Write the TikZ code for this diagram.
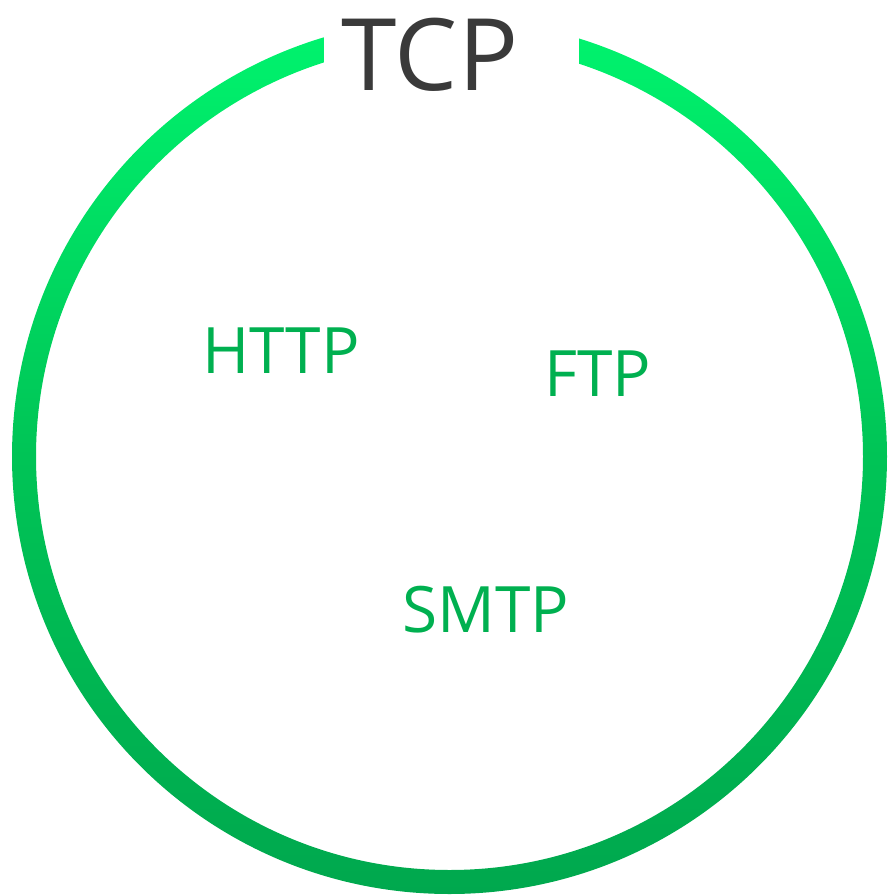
\documentclass[tikz,border=0pt]{standalone}
\usepackage{fontspec}
\setmainfont{Open Sans}
\definecolor{ringtop}{RGB}{0,244,110}
\definecolor{ringmid}{RGB}{0,196,86}
\definecolor{ringbot}{RGB}{0,168,78}
\definecolor{protogreen}{RGB}{0,176,80}
\definecolor{titlegray}{RGB}{58,58,58}
\tikzset{
  proto/.style={anchor=base, inner sep=0pt, text=protogreen,
    font=\fontsize{64}{64}\selectfont},
  title/.style={anchor=base, inner sep=0pt, text=titlegray,
    font=\fontsize{100}{100}\selectfont}
}
\begin{document}
\begin{tikzpicture}[x=1pt,y=-1pt]
  \useasboundingbox (0,0) rectangle (887,895);
  \coordinate (c) at (449.5,456.5);
  % shaded ring
  \shade[even odd rule, top color=ringtop, bottom color=ringbot, middle color=ringmid]
    (c) circle (437.5pt) (c) circle (413.5pt);
  % gap in the ring behind the title
  \fill[white] (324,0) rectangle (579,120);
  \node[title] (tcp) at (430,90) {TCP};
  \node[proto] (http) at (281,373) {HTTP};
  \node[proto] (ftp) at (598,396) {FTP};
  \node[proto] (smtp) at (486,632) {SMTP};
\end{tikzpicture}
\end{document}
